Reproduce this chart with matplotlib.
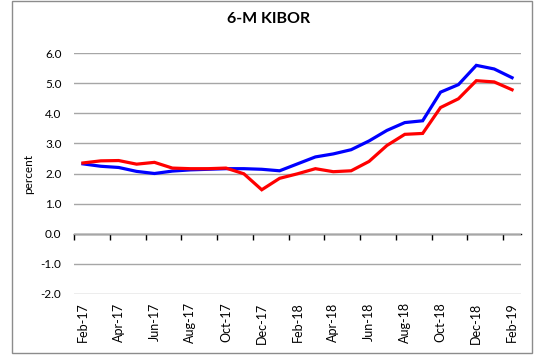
import matplotlib
matplotlib.use('Agg')
import matplotlib.pyplot as plt
from matplotlib.patches import Rectangle
import numpy as np

# monthly 6-month KIBOR, Feb-17 .. Feb-19
months = ['Feb-17', 'Mar-17', 'Apr-17', 'May-17', 'Jun-17', 'Jul-17', 'Aug-17',
          'Sep-17', 'Oct-17', 'Nov-17', 'Dec-17', 'Jan-18', 'Feb-18', 'Mar-18',
          'Apr-18', 'May-18', 'Jun-18', 'Jul-18', 'Aug-18', 'Sep-18', 'Oct-18',
          'Nov-18', 'Dec-18', 'Jan-19', 'Feb-19']
blue_series = [2.32, 2.24, 2.20, 2.07, 2.00, 2.08, 2.12, 2.14, 2.16, 2.16, 2.14, 2.09,
               2.32, 2.55, 2.65, 2.79, 3.08, 3.43, 3.69, 3.75, 4.70, 4.95, 5.59, 5.47, 5.18]
red_series = [2.35, 2.42, 2.43, 2.31, 2.37, 2.18, 2.16, 2.16, 2.18, 1.99, 1.46, 1.84,
              1.99, 2.16, 2.06, 2.09, 2.40, 2.93, 3.30, 3.33, 4.19, 4.48, 5.08, 5.04, 4.78]
y_ticks = [-2.0, -1.0, 0.0, 1.0, 2.0, 3.0, 4.0, 5.0, 6.0]

plt.rcParams['font.family'] = ['Lato', 'DejaVu Sans']

fig = plt.figure(figsize=(5.34, 3.56), dpi=100)
ax = fig.add_axes([74 / 534, 62 / 356, 447 / 534, 241 / 356])

x = np.arange(len(months))
ax.plot(x, blue_series, color='#0000FF', lw=2.3, solid_joinstyle='miter')
ax.plot(x, red_series, color='#FF0000', lw=2.3, solid_joinstyle='miter')

ax.set_xlim(-0.5, len(months) - 0.5)
ax.set_ylim(-2.0, 6.0)
ax.set_yticks(y_ticks)
ax.set_yticklabels([f'{v:.1f}' for v in y_ticks], fontsize=8.5)
ax.tick_params(axis='y', length=0, pad=9)
ax.grid(axis='y', color='#A6A6A6', lw=1)
ax.set_axisbelow(True)

# labels every second month along the bottom
ax.set_xticks(x[::2])
ax.set_xticklabels(months[::2], rotation=90, fontsize=9)
ax.tick_params(axis='x', length=0, pad=6)

for side in ['top', 'right', 'left', 'bottom']:
    ax.spines[side].set_visible(False)

# category axis crossing at zero with tick marks between groups
zero_frac = (0 - ax.get_ylim()[0]) / (ax.get_ylim()[1] - ax.get_ylim()[0])
sec = ax.secondary_xaxis(zero_frac)
sec.set_xticks(np.arange(-0.5, len(months) - 0.5, 2))
sec.set_xticklabels([])
sec.tick_params(axis='x', direction='out', length=4, width=1, color='black')
sec.spines['bottom'].set_color('black')
sec.spines['bottom'].set_linewidth(1)

ax.set_ylabel('percent', fontsize=8.5, labelpad=5)
fig.text(269 / 534, 1 - 19 / 356, '6-M KIBOR', ha='center', va='center',
         fontsize=11.5, fontweight='bold')

fig.patches.append(Rectangle((12 / 534, 3 / 356), 520 / 534, 352 / 356,
                             transform=fig.transFigure, fill=False,
                             edgecolor='#8C8C8C', lw=1))

fig.savefig('out.png', dpi=100)
